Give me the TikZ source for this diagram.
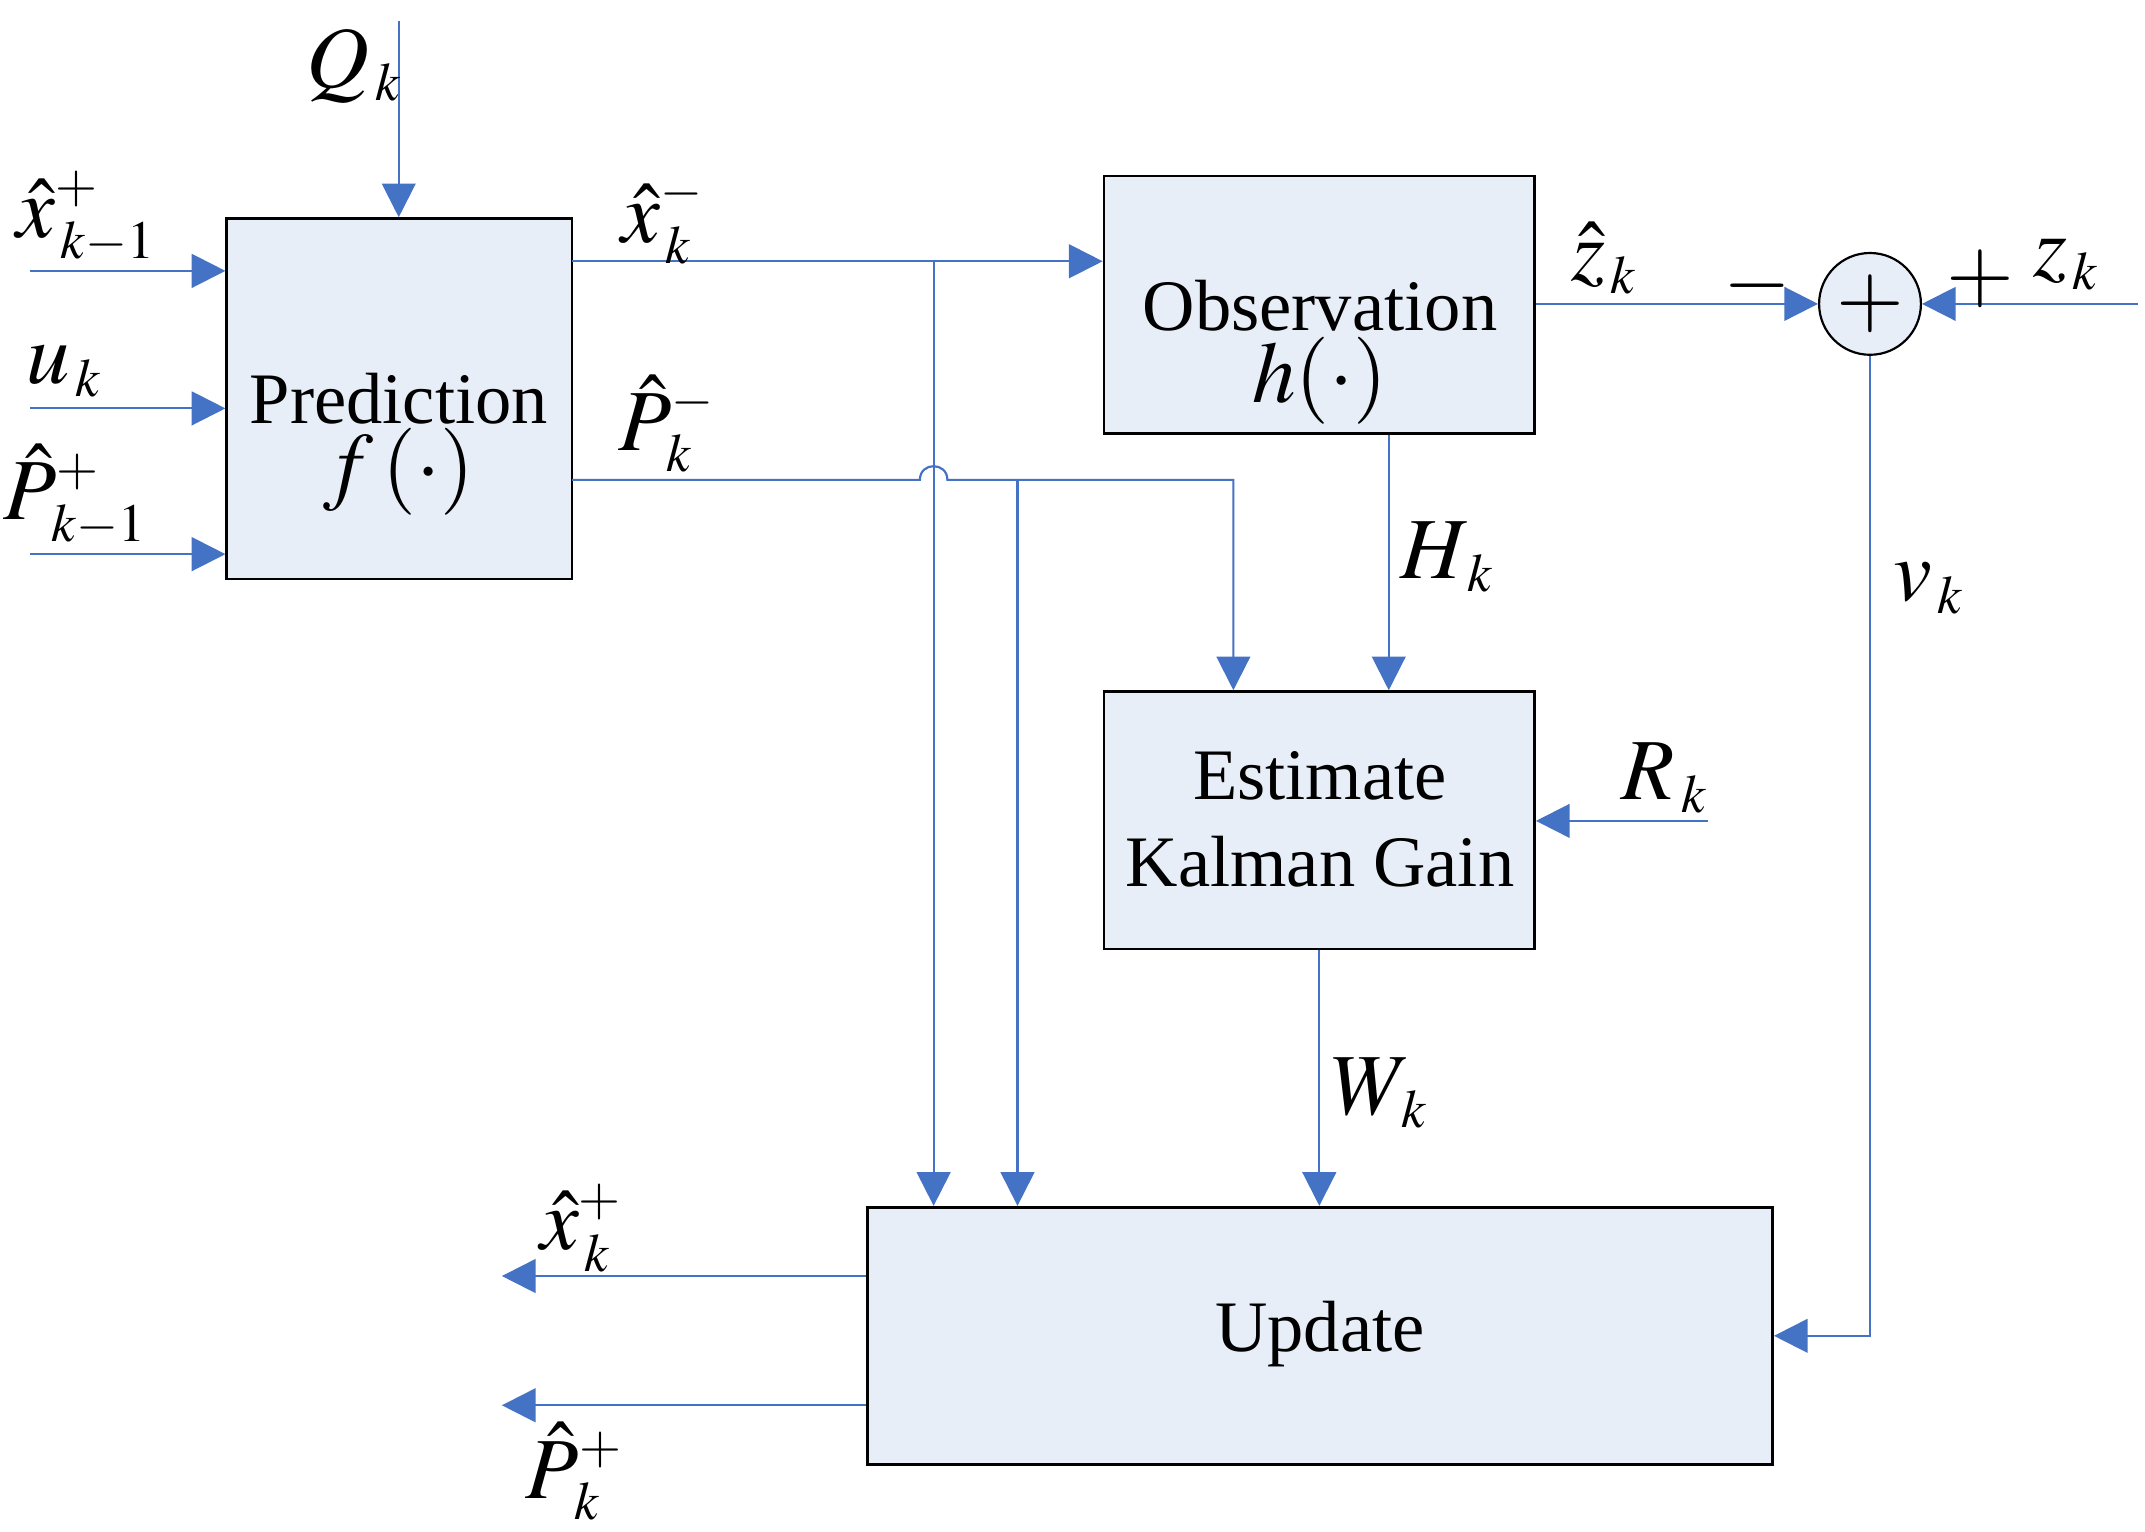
\documentclass[tikz,border=0pt]{standalone}
\usepackage{mathptmx}
\usepackage[no-math]{fontspec}
\setmainfont{Liberation Serif}
\usetikzlibrary{arrows.meta}
\makeatletter
\def\defaultscriptratio{.62}
\def\defaultscriptscriptratio{.5}
\makeatother
\definecolor{lblue}{RGB}{68,114,196}
\definecolor{bfill}{RGB}{232,238,247}
\tikzset{
  blk/.style={draw=black, line width=0.55pt, fill=bfill, inner sep=0pt},
  sig/.style={draw=lblue, line width=0.45pt},
  arr/.style={sig, -{Triangle[length=0.245cm,width=0.245cm,fill=lblue]}},
  lab/.style={font=\fontsize{18}{21}\selectfont, inner sep=0pt},
  txt/.style={font=\fontsize{15}{18}\selectfont, align=center, inner sep=0pt},
}
\begin{document}
\begin{tikzpicture}[x=0.01cm,y=-0.01cm]
\useasboundingbox (0,0) rectangle (1560,1114);
% blocks
\node[blk, minimum width=2.51cm, minimum height=2.62cm] (pred) at (290.5,290) {};
\node[blk, minimum width=3.13cm, minimum height=1.87cm] (obs) at (959.5,221.5) {};
\node[blk, minimum width=3.13cm, minimum height=1.87cm] (est) at (959.5,596.5) {};
\node[blk, minimum width=6.58cm, minimum height=1.87cm] (upd) at (960,971.5) {};
\node[blk, circle, line width=0.45pt, minimum size=0.74cm] (sum) at (1360,221) {};
% block texts
\node[txt] (predt) at (290,290) {Prediction};
\node[lab] (predf) at (290,343) {$f\,(\cdot)$};
\node[txt] (obst) at (960,222) {Observation};
\node[lab] (obsh) at (960,277) {$h(\cdot)$};
\node[txt, font=\fontsize{15}{17.9}\selectfont] (estt) at (960,596) {Estimate\\Kalman Gain};
\node[txt] (updt) at (960,970) {Update};
\node[font=\fontsize{18}{22}\selectfont, inner sep=0pt] (sumt) at (1360,221) {$+$};
% coordinates
\coordinate (qtop) at (290,15);
\coordinate (in1) at (22,197);
\coordinate (in2) at (22,297);
\coordinate (in3) at (22,403);
\coordinate (xm) at (416,190);
\coordinate (b1) at (679,190);
\coordinate (pm) at (416,349);
\coordinate (j1) at (669,349);
\coordinate (j2) at (689,349);
\coordinate (b2) at (740,349);
\coordinate (pk) at (897,349);
\coordinate (hx) at (1010,0);
\coordinate (zin) at (1555,221);
\coordinate (rin) at (1242,597);
\coordinate (o1) at (365,928);
\coordinate (o2) at (365,1022);
% connectors
\draw[arr] (qtop) -- (qtop |- pred.north);
\draw[arr] (in1) -- (in1 -| pred.west);
\draw[arr] (in2) -- (in2 -| pred.west);
\draw[arr] (in3) -- (in3 -| pred.west);
\draw[arr] (xm) -- (xm -| obs.west);
\draw[arr] (b1) -- (b1 |- upd.north);
\draw[arr] (pm) -- (j1) .. controls (669,335.7) and (689,335.7) .. (j2) -- (pk) -- (pk |- est.north);
\draw[arr] (b2) -- (b2 |- upd.north);
\draw[arr] (obs.south -| hx) -- (est.north -| hx);
\draw[arr] (obs.east |- sum) -- (sum.west);
\draw[arr] (zin) -- (sum.east);
\draw[arr] (sum.south) -- (sum.south |- upd.east) -- (upd.east);
\draw[arr] (rin) -- (rin -| est.east);
\draw[arr] (est.south) -- (est.south |- upd.north);
\draw[arr] (o1 -| upd.west) -- (o1);
\draw[arr] (o2 -| upd.west) -- (o2);
% labels
\node[lab] (lq) at (258,48) {$Q_{\,k}$};
\node[lab] (lx1) at (63,158) {$\hat{x}_{\,k-1}^{+}$};
\node[lab] (lu) at (47,270) {$u_{\,k}$};
\node[lab] (lp1) at (55,360) {$\hat{P}_{\,k-1}^{+}$};
\node[lab] (lxm) at (482,160) {$\hat{x}_{\,k}^{-}$};
\node[lab] (lpm) at (485,308) {$\hat{P}_{\,k}^{-}$};
\node[lab] (lz) at (1167,188) {$\hat{z}_{\,k}$};
\node[lab] (lminus) at (1278,208) {$-$};
\node[lab] (lplus) at (1440,203) {$+$};
\node[lab] (lzk) at (1503,192) {$z_{\,k}$};
\node[lab] (lh) at (1053,405) {$H_{\,k}$};
\node[lab] (lv) at (1403,428) {$v_{\,k}$};
\node[lab] (lr) at (1211,566) {$R_{\,k}$};
\node[lab] (lw) at (1004,795) {$W_{\,k}$};
\node[lab] (lxp) at (423,893) {$\hat{x}_{\,k}^{+}$};
\node[lab] (lpp) at (418,1070) {$\hat{P}_{\,k}^{+}$};
\end{tikzpicture}
\end{document}
